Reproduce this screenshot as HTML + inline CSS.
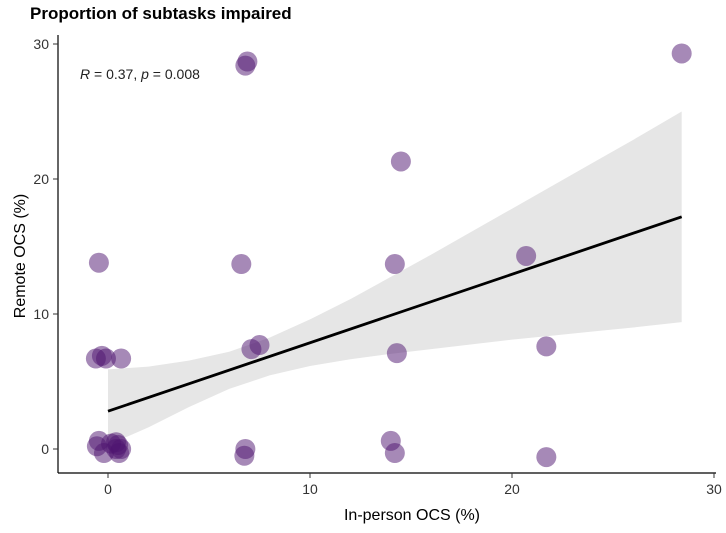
<!DOCTYPE html>
<html><head><meta charset="utf-8"><style>
body{margin:0;background:#fff;font-family:"Liberation Sans",sans-serif}
</style></head><body>
<svg width="726" height="528" xmlns="http://www.w3.org/2000/svg">
<text x="30" y="19" font-size="17" font-weight="bold" fill="#000">Proportion of subtasks impaired</text>
<g id="band"></g><g id="pts"></g><g id="axes"></g>
<text x="80" y="79" font-size="14" fill="#222"><tspan font-style="italic">R</tspan> = 0.37, <tspan font-style="italic">p</tspan> = 0.008</text>
<text x="412" y="520" font-size="16" text-anchor="middle" fill="#000">In-person OCS (%)</text>
<text transform="translate(25,256) rotate(-90)" font-size="16" text-anchor="middle" fill="#000">Remote OCS (%)</text>
</svg>
<script>
const xs=[6.9,6.8,28.4,14.5,-0.45,6.6,14.2,20.7,7.1,7.5,14.3,21.7,-0.6,-0.3,-0.1,0.65,-0.55,-0.45,-0.2,0.15,0.4,0.55,0.4,0.65,0.5,6.8,6.75,14.0,14.2,21.7];
const ys=[28.7,28.4,29.3,21.3,13.8,13.7,13.7,14.3,7.4,7.7,7.1,7.6,6.7,6.9,6.7,6.7,0.2,0.6,-0.3,0.4,0.0,-0.3,0.5,0.0,0.3,0.0,-0.5,0.6,-0.3,-0.6];
const bandX=[0,2,4,6,8,10,12,14,16,18,20,22,24,26,28.4];
const bandLo=[0.3,1.6,3.1,4.45,5.45,6.15,6.65,7.05,7.4,7.75,8.1,8.4,8.7,9.0,9.4];
const bandHi=[5.9,6.1,6.55,7.2,8.25,9.6,11.1,12.75,14.4,16.1,17.8,19.5,21.2,22.9,25.0];
const fitX=[0,28.4];const fitY=[2.8,17.2];
const xTicks=[0,10,20,30];const yTicks=[0,10,20,30];
const X=v=>108+v*20.2, Y=v=>449-v*13.5;
const NS="http://www.w3.org/2000/svg";
function mk(t,a,p){const e=document.createElementNS(NS,t);for(const k in a)e.setAttribute(k,a[k]);p.appendChild(e);return e;}
const band=document.getElementById('band');
let d='M'+bandX.map((x,i)=>X(x)+','+Y(bandHi[i])).join('L');
for(let i=bandX.length-1;i>=0;i--)d+='L'+X(bandX[i])+','+Y(bandLo[i]);
const b=mk('path',{d:d+'Z',fill:'#e6e6e6'},band);


const l=mk('line',{x1:X(fitX[0]),y1:Y(fitY[0]),x2:X(fitX[1]),y2:Y(fitY[1]),stroke:'#000','stroke-width':2.8},band);


const pts=document.getElementById('pts');
xs.forEach((x,i)=>{const c=mk('circle',{cx:X(x),cy:Y(ys[i]),r:10,fill:'#4d1470','fill-opacity':0.5},pts);

});
const ax=document.getElementById('axes');
const xa=mk('line',{x1:58,y1:473,x2:716,y2:473,stroke:'#000','stroke-width':1.2},ax);


const ya=mk('line',{x1:58,y1:35,x2:58,y2:473,stroke:'#000','stroke-width':1.2},ax);


xTicks.forEach(v=>{mk('line',{x1:X(v),y1:473,x2:X(v),y2:478,stroke:'#333'},ax);
const t=mk('text',{x:X(v),y:494,'font-size':14,'text-anchor':'middle',fill:'#333'},ax);t.textContent=v;

});
yTicks.forEach(v=>{mk('line',{x1:53,y1:Y(v),x2:58,y2:Y(v),stroke:'#333'},ax);
const t=mk('text',{x:49,y:Y(v)+5,'font-size':14,'text-anchor':'end',fill:'#333'},ax);t.textContent=v;

});
</script>
</body></html>
